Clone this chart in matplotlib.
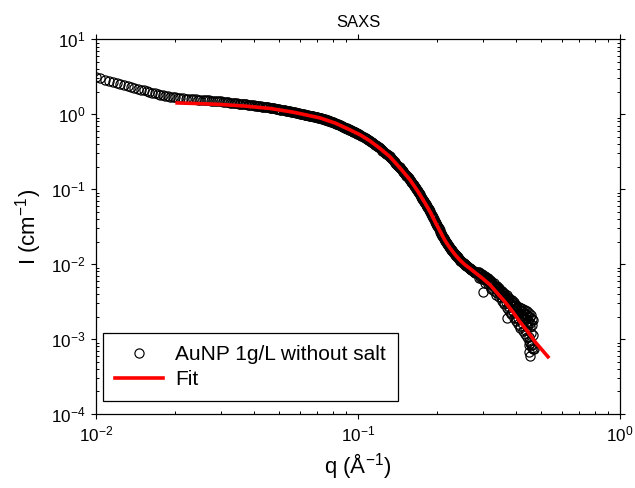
import matplotlib
matplotlib.use("Agg")
import matplotlib.pyplot as plt
from matplotlib.ticker import LogLocator, NullFormatter

plt.rcParams['font.family'] = ['Liberation Sans', 'DejaVu Sans']
plt.rcParams['mathtext.fontset'] = 'custom'
plt.rcParams['mathtext.rm'] = 'Liberation Sans'
plt.rcParams['mathtext.it'] = 'Liberation Sans:italic'
plt.rcParams['mathtext.bf'] = 'Liberation Sans:bold'

# ---- data: low-q region (distinct circles) ----
q_low = [0.0100, 0.0104, 0.0108, 0.0112, 0.0116, 0.0120, 0.0124, 0.0128, 0.0132,
         0.0136, 0.0140, 0.0144, 0.0148, 0.0152, 0.0156, 0.0160, 0.0164, 0.0168,
         0.0172, 0.0176, 0.0180, 0.0184, 0.0188, 0.0192, 0.0196, 0.0200,
         0.0205, 0.0210, 0.0215, 0.0220, 0.0225, 0.0230, 0.0235, 0.0240, 0.0245,
         0.0250, 0.0255, 0.0260, 0.0265, 0.0270, 0.0275, 0.0280, 0.0285, 0.0290,
         0.0295, 0.0300, 0.0305, 0.0310, 0.0315, 0.0320, 0.0325, 0.0330, 0.0335,
         0.0340, 0.0345, 0.0350]
I_low = [3.13, 3.01, 2.90, 2.79, 2.70, 2.61, 2.52, 2.44, 2.37,
         2.30, 2.24, 2.18, 2.13, 2.08, 2.03, 1.98, 1.94, 1.90,
         1.86, 1.82, 1.79, 1.77, 1.74, 1.72, 1.70, 1.68,
         1.66, 1.65, 1.63, 1.62, 1.61, 1.60, 1.59, 1.58, 1.57,
         1.56, 1.552, 1.543, 1.535, 1.526, 1.518, 1.510, 1.502, 1.494,
         1.486, 1.479, 1.469, 1.458, 1.448, 1.439, 1.429, 1.420, 1.411,
         1.402, 1.394, 1.386]

# ---- data: mid-q region ----
q_mid = [0.036, 0.037, 0.038, 0.039, 0.040, 0.041, 0.042, 0.043, 0.044, 0.045,
         0.046, 0.047, 0.048, 0.049, 0.050, 0.051, 0.052, 0.053, 0.054, 0.055,
         0.056, 0.057, 0.058, 0.059, 0.060, 0.061, 0.062, 0.063, 0.064, 0.065,
         0.066, 0.067, 0.068, 0.069, 0.070, 0.071, 0.072, 0.073, 0.074, 0.075,
         0.076, 0.077, 0.078, 0.079, 0.080, 0.081, 0.082, 0.083, 0.084, 0.085,
         0.086, 0.087, 0.088, 0.089, 0.090, 0.091, 0.092, 0.093, 0.094, 0.095,
         0.096, 0.097, 0.098, 0.099, 0.100]
I_mid = [1.371, 1.359, 1.342, 1.326, 1.311, 1.296, 1.282, 1.268, 1.254, 1.241,
         1.229, 1.213, 1.196, 1.180, 1.164, 1.149, 1.134, 1.120, 1.106, 1.092,
         1.079, 1.066, 1.050, 1.035, 1.020, 1.007, 0.995, 0.983, 0.972, 0.960,
         0.950, 0.939, 0.928, 0.918, 0.908, 0.899, 0.887, 0.873, 0.859, 0.845,
         0.832, 0.819, 0.806, 0.794, 0.782, 0.771, 0.760, 0.745, 0.731, 0.717,
         0.703, 0.690, 0.678, 0.665, 0.654, 0.642, 0.631, 0.620, 0.609, 0.598,
         0.587, 0.577, 0.567, 0.558, 0.548]

q_mid2 = [0.0355, 0.0365, 0.0375, 0.0385, 0.0395, 0.0405, 0.0415, 0.0425, 0.0435, 0.0445,
          0.0455, 0.0465, 0.0475, 0.0485, 0.0495, 0.0505, 0.0515, 0.0525, 0.0535, 0.0545,
          0.0555, 0.0565, 0.0575, 0.0585, 0.0595, 0.0605, 0.0615, 0.0625, 0.0635, 0.0645,
          0.0655, 0.0665, 0.0675, 0.0685, 0.0695, 0.0705, 0.0715, 0.0725, 0.0735, 0.0745,
          0.0755, 0.0765, 0.0775, 0.0785, 0.0795, 0.0805, 0.0815, 0.0825, 0.0835, 0.0845,
          0.0855, 0.0865, 0.0875, 0.0885, 0.0895, 0.0905, 0.0915, 0.0925, 0.0935, 0.0945,
          0.0955, 0.0965, 0.0975, 0.0985, 0.0995]
I_mid2 = [1.378, 1.365, 1.350, 1.334, 1.318, 1.303, 1.289, 1.275, 1.261, 1.247,
          1.235, 1.221, 1.204, 1.188, 1.172, 1.156, 1.141, 1.127, 1.113, 1.099,
          1.085, 1.072, 1.058, 1.042, 1.027, 1.013, 1.001, 0.989, 0.977, 0.966,
          0.955, 0.944, 0.933, 0.923, 0.913, 0.903, 0.893, 0.880, 0.866, 0.852,
          0.838, 0.825, 0.812, 0.800, 0.788, 0.776, 0.765, 0.752, 0.738, 0.724,
          0.710, 0.696, 0.684, 0.671, 0.659, 0.648, 0.636, 0.625, 0.614, 0.603,
          0.592, 0.582, 0.572, 0.562, 0.553]

# ---- data: steep region ----
q_steep = [0.102, 0.104, 0.106, 0.108, 0.110, 0.112, 0.114, 0.116, 0.118, 0.120,
           0.122, 0.124, 0.126, 0.128, 0.130, 0.132, 0.134, 0.136, 0.138, 0.140,
           0.142, 0.144, 0.146, 0.148, 0.150, 0.152, 0.154, 0.156, 0.158, 0.160,
           0.162, 0.164, 0.166, 0.168, 0.170, 0.172, 0.174, 0.176, 0.178, 0.180,
           0.182, 0.184, 0.186, 0.188, 0.190, 0.192, 0.194, 0.196, 0.198, 0.200,
           0.202, 0.204, 0.206, 0.208, 0.210, 0.212, 0.214, 0.216, 0.218, 0.220,
           0.222, 0.224, 0.226, 0.228, 0.230, 0.232, 0.234, 0.236, 0.238, 0.240,
           0.242, 0.244, 0.246, 0.248, 0.250, 0.252, 0.254, 0.256, 0.258, 0.260,
           0.262, 0.264, 0.266, 0.268, 0.270, 0.272, 0.274, 0.276, 0.278, 0.280]
I_steep = [0.530, 0.508, 0.487, 0.468, 0.449, 0.431, 0.411, 0.393, 0.376, 0.360,
           0.344, 0.328, 0.313, 0.299, 0.286, 0.273, 0.258, 0.244, 0.230, 0.218,
           0.206, 0.195, 0.185, 0.1745, 0.165, 0.156, 0.148, 0.1403, 0.133, 0.1247,
           0.117, 0.1099, 0.1032, 0.0970, 0.0910, 0.0851, 0.0797, 0.0746, 0.0700, 0.0657,
           0.0615, 0.0576, 0.0540, 0.0506, 0.0472, 0.0439, 0.0408, 0.0380, 0.0354, 0.0331,
           0.0310, 0.0290, 0.0272, 0.0255, 0.0240, 0.0225, 0.0212, 0.0200, 0.0191, 0.0182,
           0.0173, 0.0166, 0.0159, 0.0153, 0.0147, 0.0141, 0.0136, 0.01309, 0.01266, 0.01226,
           0.01187, 0.01149, 0.01116, 0.01087, 0.01060, 0.01033, 0.01007, 0.00980, 0.00960, 0.00941,
           0.00922, 0.00904, 0.00887, 0.00870, 0.00852, 0.00834, 0.00817, 0.00801, 0.00785, 0.00770]

q_steep2 = [0.101, 0.103, 0.105, 0.107, 0.109, 0.111, 0.113, 0.115, 0.117, 0.119,
            0.121, 0.123, 0.125, 0.127, 0.129, 0.131, 0.133, 0.135, 0.137, 0.139,
            0.141, 0.143, 0.145, 0.147, 0.149, 0.151, 0.153, 0.155, 0.157, 0.159,
            0.161, 0.163, 0.165, 0.167, 0.169, 0.171, 0.173, 0.175, 0.177, 0.179,
            0.181, 0.183, 0.185, 0.187, 0.189, 0.191, 0.193, 0.195, 0.197, 0.199,
            0.201, 0.203, 0.205, 0.207, 0.209, 0.211, 0.213, 0.215, 0.217, 0.219,
            0.221, 0.223, 0.225, 0.227, 0.229, 0.231, 0.233, 0.235, 0.237, 0.239,
            0.241, 0.243, 0.245, 0.247, 0.249, 0.251, 0.253, 0.255, 0.257, 0.259,
            0.261, 0.263, 0.265, 0.267, 0.269, 0.271, 0.273, 0.275, 0.277, 0.279]
I_steep2 = [0.539, 0.519, 0.497, 0.477, 0.458, 0.440, 0.421, 0.402, 0.384, 0.368,
            0.352, 0.336, 0.320, 0.306, 0.292, 0.279, 0.265, 0.251, 0.237, 0.224,
            0.212, 0.200, 0.190, 0.180, 0.170, 0.160, 0.152, 0.144, 0.137, 0.129,
            0.121, 0.1135, 0.1066, 0.1001, 0.0940, 0.0881, 0.0824, 0.0772, 0.0723, 0.0679,
            0.0636, 0.0596, 0.0558, 0.0523, 0.0489, 0.0456, 0.0424, 0.0394, 0.0367, 0.0343,
            0.0321, 0.0300, 0.0281, 0.0264, 0.0248, 0.0233, 0.0219, 0.0206, 0.0196, 0.0187,
            0.0178, 0.0170, 0.0163, 0.0156, 0.0150, 0.0144, 0.0139, 0.0134, 0.0129, 0.0125,
            0.0121, 0.0117, 0.0113, 0.0110, 0.0107, 0.0105, 0.0102, 0.0099, 0.0097, 0.0095,
            0.0093, 0.0091, 0.0090, 0.0088, 0.0086, 0.0084, 0.0083, 0.0081, 0.0079, 0.0078]

# ---- data: noisy high-q region ----
q_high = [0.284, 0.288, 0.292, 0.296, 0.300, 0.304, 0.308, 0.312, 0.316, 0.320,
          0.324, 0.328, 0.332, 0.336, 0.340, 0.344, 0.348, 0.352, 0.356, 0.360,
          0.364, 0.368, 0.372, 0.376, 0.380, 0.384, 0.388, 0.392, 0.396, 0.400,
          0.404, 0.408, 0.412, 0.416, 0.420, 0.424, 0.428, 0.432, 0.436, 0.440,
          0.444, 0.448, 0.452, 0.456, 0.460, 0.464, 0.468]
I_high = [0.00759, 0.00765, 0.00672, 0.00694, 0.00699, 0.00612, 0.00631, 0.00635, 0.00558, 0.00574,
          0.00476, 0.00532, 0.00473, 0.00495, 0.00410, 0.00429, 0.00440, 0.00367, 0.00385, 0.00306,
          0.00361, 0.00313, 0.00342, 0.00271, 0.00290, 0.00225, 0.00277, 0.00240, 0.00263, 0.00194,
          0.00222, 0.00189, 0.00221, 0.00150, 0.00190, 0.00162, 0.00191, 0.00133, 0.00164, 0.00144,
          0.00166, 0.00105, 0.00143, 0.00119, 0.000844, 0.00114, 0.000741]

q_high2 = [0.286, 0.290, 0.294, 0.298, 0.302, 0.306, 0.310, 0.314, 0.318, 0.322,
           0.326, 0.330, 0.334, 0.338, 0.342, 0.346, 0.350, 0.354, 0.358, 0.362,
           0.366, 0.370, 0.374, 0.378, 0.382, 0.386, 0.390, 0.394, 0.398, 0.402,
           0.406, 0.410, 0.414, 0.418, 0.422, 0.426, 0.430, 0.434, 0.438, 0.442,
           0.446, 0.450, 0.454, 0.458, 0.462, 0.466]
I_high2 = [0.00797, 0.00786, 0.00740, 0.00746, 0.00701, 0.00689, 0.00648, 0.00653, 0.00613, 0.00600,
           0.00558, 0.00556, 0.00518, 0.00517, 0.00482, 0.00482, 0.00440, 0.00441, 0.00413, 0.00413,
           0.00377, 0.00385, 0.00350, 0.00357, 0.00326, 0.00333, 0.00303, 0.00309, 0.00281, 0.00287,
           0.00267, 0.00272, 0.00248, 0.00261, 0.00239, 0.00251, 0.00225, 0.00242, 0.00217, 0.00234,
           0.00205, 0.00220, 0.00197, 0.00207, 0.00185, 0.00182]

q_high3 = [0.285, 0.289, 0.293, 0.297, 0.301, 0.305, 0.309, 0.313, 0.317, 0.321,
           0.325, 0.329, 0.333, 0.337, 0.341, 0.345, 0.349, 0.353, 0.357, 0.361,
           0.365, 0.369, 0.373, 0.377, 0.381, 0.385, 0.389, 0.393, 0.397, 0.401,
           0.405, 0.409, 0.413, 0.417, 0.421, 0.425, 0.429, 0.433, 0.437, 0.441,
           0.445, 0.449, 0.453, 0.457, 0.461, 0.465,
           0.300, 0.370, 0.448, 0.450, 0.452, 0.455, 0.462]
I_high3 = [0.00769, 0.00660, 0.00730, 0.00627, 0.00660, 0.00566, 0.00625, 0.00536, 0.00578, 0.00472,
           0.00528, 0.00437, 0.00490, 0.00388, 0.00444, 0.00361, 0.00416, 0.00323, 0.00380, 0.00296,
           0.00356, 0.00263, 0.00323, 0.00239, 0.00300, 0.00218, 0.00274, 0.00193, 0.00254, 0.00175,
           0.00235, 0.00159, 0.00219, 0.00142, 0.00206, 0.00130, 0.00194, 0.00117, 0.00183, 0.00108,
           0.00173, 0.000951, 0.00162, 0.000833, 0.00152, 0.000731,
           0.00427, 0.00192, 0.00083, 0.00068, 0.00060, 0.00090, 0.00075]

# ---- fit curve ----
fit_q = [0.0204, 0.025, 0.0297, 0.037, 0.0461, 0.057, 0.0716, 0.082, 0.0932, 0.102,
         0.111, 0.121, 0.1325, 0.145, 0.158, 0.169, 0.180, 0.189, 0.197, 0.206,
         0.215, 0.225, 0.235, 0.245, 0.256, 0.268, 0.280, 0.298, 0.319, 0.340,
         0.364, 0.390, 0.415, 0.445, 0.474, 0.531]
fit_I = [1.415, 1.385, 1.351, 1.285, 1.195, 1.06, 0.893, 0.760, 0.618, 0.530,
         0.441, 0.352, 0.270, 0.190, 0.133, 0.094, 0.0657, 0.049, 0.0366, 0.0272,
         0.0205, 0.0162, 0.0133, 0.0113, 0.0098, 0.0087, 0.0077, 0.0065, 0.0053, 0.0041,
         0.00314, 0.0023, 0.0017, 0.00125, 0.00092, 0.00058]

q_data = q_low + q_mid + q_mid2 + q_steep + q_steep2 + q_high + q_high2 + q_high3
I_data = I_low + I_mid + I_mid2 + I_steep + I_steep2 + I_high + I_high2 + I_high3

fig = plt.figure(figsize=(6.35, 4.88), dpi=100)
ax = fig.add_axes([0.1512, 0.1516, 0.8252, 0.7679])

ax.plot(q_data, I_data, linestyle='none', marker='o', markersize=6.6,
        markerfacecolor='none', markeredgecolor='black', markeredgewidth=0.85,
        label='AuNP 1g/L without salt')
ax.plot(fit_q, fit_I, color='#ff0000', linewidth=2.6, label='Fit')

ax.set_xscale('log')
ax.set_yscale('log')
ax.set_xlim(1e-2, 1e0)
ax.set_ylim(1e-4, 1e1)

ax.xaxis.set_major_locator(LogLocator(base=10, numticks=10))
ax.yaxis.set_major_locator(LogLocator(base=10, numticks=10))
ax.xaxis.set_minor_locator(LogLocator(base=10, subs=range(2, 10), numticks=20))
ax.yaxis.set_minor_locator(LogLocator(base=10, subs=range(2, 10), numticks=20))
ax.xaxis.set_minor_formatter(NullFormatter())
ax.yaxis.set_minor_formatter(NullFormatter())

for s in ax.spines.values():
    s.set_linewidth(0.9)
ax.tick_params(which='major', direction='out', length=3.6, width=0.8,
               top=True, right=True, labelsize=12.3, pad=4)
ax.tick_params(which='minor', direction='in', length=2.4, width=0.7,
               top=True, right=True)

ax.set_title('SAXS', fontsize=12, pad=9)
ax.set_xlabel('q (Å$^{-1}$)', fontsize=16, labelpad=5)
ax.set_ylabel('I (cm$^{-1}$)', fontsize=16, labelpad=5)

leg = ax.legend(loc='lower left', bbox_to_anchor=(0.0139, 0.0355), borderaxespad=0,
                fontsize=15, frameon=True, fancybox=False, shadow=False,
                handlelength=2.3, handletextpad=0.6, labelspacing=0.3,
                borderpad=0.56)
leg.get_frame().set_edgecolor('black')
leg.get_frame().set_linewidth(0.9)
leg.get_frame().set_alpha(1.0)

fig.savefig('out.png', dpi=100)
